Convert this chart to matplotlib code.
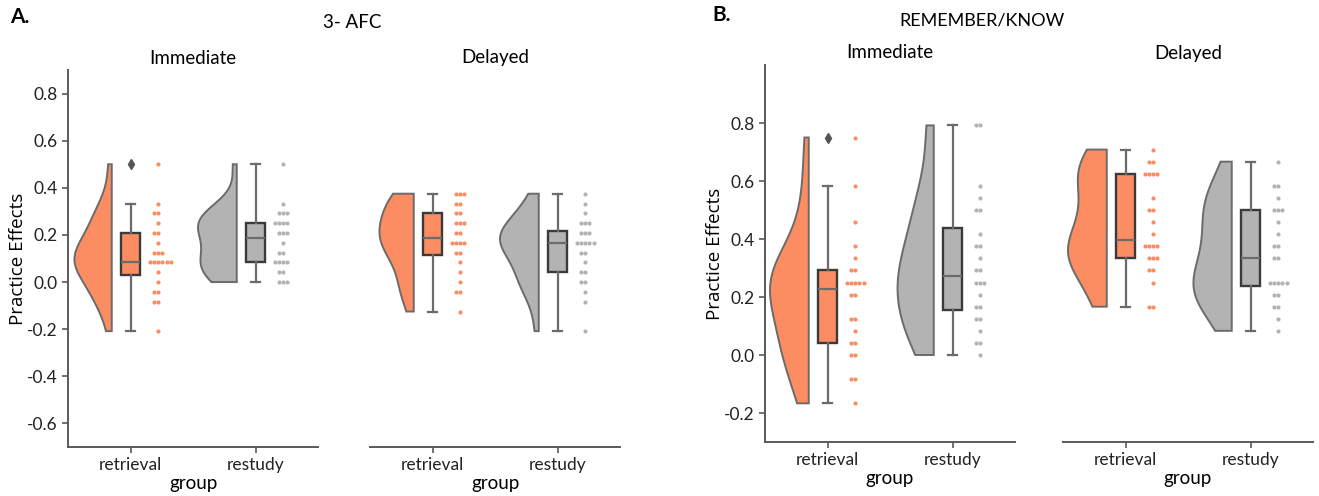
import numpy as np
import matplotlib
matplotlib.use("Agg")
import matplotlib.pyplot as plt

plt.rcParams['font.family'] = ['Lato', 'DejaVu Sans']
plt.rcParams['axes.unicode_minus'] = False

W, H = 1319, 496

groups = ['retrieval', 'restudy']
sessions = ['Immediate', 'Delayed']
colors = ['#fc8d62', '#b3b3b3']

# practice-effect scores in 24ths, one entry per participant
afc_imm_retrieval = [12, 8, 7, 7, 6, 5, 5, 4, 3, 3, 3, 2, 2, 2, 2, 2, 2, 1, 0, -1, -1, -2, -2, -5]
afc_imm_restudy = [12, 8, 7, 7, 7, 6, 6, 6, 6, 5, 5, 5, 4, 3, 3, 2, 2, 2, 2, 1, 1, 0, 0, 0]
afc_del_retrieval = [9, 9, 9, 8, 8, 7, 7, 6, 6, 6, 5, 5, 4, 4, 4, 4, 3, 3, 2, 1, 0, -1, -1, -3]
afc_del_restudy = [9, 8, 7, 6, 6, 6, 5, 5, 5, 4, 4, 4, 4, 4, 3, 3, 2, 1, 1, 0, 0, -1, -2, -5]
rk_imm_retrieval = [18, 14, 11, 9, 8, 7, 7, 6, 6, 6, 6, 6, 5, 5, 3, 3, 2, 1, 1, 0, 0, -2, -2, -4]
rk_imm_restudy = [19, 19, 14, 13, 12, 12, 10, 9, 9, 8, 7, 7, 6, 6, 6, 5, 4, 4, 3, 3, 2, 1, 1, 0]
rk_del_retrieval = [17, 16, 16, 15, 15, 15, 15, 13, 12, 12, 11, 10, 9, 9, 9, 9, 8, 8, 8, 7, 7, 6, 4, 4]
rk_del_restudy = [16, 14, 14, 13, 12, 12, 12, 11, 10, 9, 9, 8, 8, 6, 6, 6, 6, 6, 5, 5, 4, 4, 3, 2]

afc_ticks = [-0.6, -0.4, -0.2, 0.0, 0.2, 0.4, 0.6, 0.8]
rk_ticks = [-0.2, 0.0, 0.2, 0.4, 0.6, 0.8]

SWARM_ORDER = [0, -1, 1, -2, 2, 3, -3, 4, -4]
LINE = '#6b6b6b'


def px_axes(fig, x0, x1, ytop, ybot):
    return fig.add_axes([x0 / W, 1 - ybot / H, (x1 - x0) / W, (ybot - ytop) / H])


def kde(v, grid):
    bw = v.std(ddof=1) * len(v) ** (-0.2)
    z = (grid[:, None] - v[None, :]) / bw
    return np.exp(-0.5 * z ** 2).sum(axis=1) / (len(v) * bw * np.sqrt(2 * np.pi))


def raincloud(ax, datasets):
    vals = [np.asarray(d) / 24.0 for d in datasets]
    grids = [np.linspace(v.min(), v.max(), 200) for v in vals]
    dens = [kde(v, g) for v, g in zip(vals, grids)]
    peak = max(d.max() for d in dens)
    for i, (v, g, d, c) in enumerate(zip(vals, grids, dens, colors)):
        edge = i - 0.15
        xs = np.concatenate([[edge], edge - d / peak * 0.31, [edge]])
        ys = np.concatenate([[g[0]], g, [g[-1]]])
        ax.fill(xs, ys, facecolor=c, edgecolor=LINE, lw=1.4, zorder=1)

        ax.boxplot([v], positions=[i], widths=0.15, patch_artist=True,
                   manage_ticks=False, whis=1.5,
                   boxprops=dict(facecolor=c, edgecolor='#3a3a3a', lw=1.7),
                   whiskerprops=dict(color=LINE, lw=1.6),
                   capprops=dict(color=LINE, lw=1.6),
                   medianprops=dict(color=LINE, lw=1.6),
                   flierprops=dict(marker='d', markerfacecolor='#555555',
                                   markeredgecolor='#555555', markersize=5),
                   zorder=2)

        xs_pts, ys_pts = [], []
        for u in np.unique(datasets[i]):
            k = int(np.sum(np.asarray(datasets[i]) == u))
            for j in range(k):
                xs_pts.append(i + 0.22 + SWARM_ORDER[j] * 0.034)
                ys_pts.append(u / 24.0)
        ax.scatter(xs_pts, ys_pts, s=9, color=c, linewidths=0, zorder=3)

    ax.set_xlim(-0.5, 1.5)
    ax.set_xticks([0, 1])
    ax.set_xticklabels(groups, fontsize=12.5)
    ax.set_xlabel('group', fontsize=13.5, labelpad=1)
    for s in ['top', 'right']:
        ax.spines[s].set_visible(False)
    for s in ['left', 'bottom']:
        ax.spines[s].set_color('#5a5a5a')
        ax.spines[s].set_linewidth(1.4)
    ax.tick_params(colors='#5a5a5a', labelcolor='#222222', length=4, width=1.2,
                   labelsize=12.5)


fig = plt.figure(figsize=(W / 100, H / 100), dpi=100)

panels = [
    dict(x=[(68, 318), (370, 620)], y=(70, 447), lim=(-0.7, 0.9), ticks=afc_ticks,
         data=[(afc_imm_retrieval, afc_imm_restudy), (afc_del_retrieval, afc_del_restudy)],
         title_y=58),
    dict(x=[(765, 1015), (1063, 1313)], y=(65, 442), lim=(-0.3, 1.0), ticks=rk_ticks,
         data=[(rk_imm_retrieval, rk_imm_restudy), (rk_del_retrieval, rk_del_restudy)],
         title_y=53),
]

for p in panels:
    for k, ((x0, x1), d) in enumerate(zip(p['x'], p['data'])):
        ax = px_axes(fig, x0, x1, p['y'][0], p['y'][1])
        raincloud(ax, d)
        ax.set_ylim(*p['lim'])
        if k == 0:
            ax.set_yticks(p['ticks'])
            ax.set_yticklabels(['%.1f' % t for t in p['ticks']])
            ax.set_ylabel('Practice Effects', fontsize=13.5, family=['Open Sans', 'DejaVu Sans'])
            ax.yaxis.set_label_coords(-0.165, 0.5)
        else:
            ax.spines['left'].set_visible(False)
            ax.set_yticks([])
        fig.text((x0 + x1) / 2 / W, 1 - p['title_y'] / H, sessions[k],
                 ha='center', va='center', fontsize=13.5)

fig.text(10 / W, 1 - 17 / H, 'A.', ha='left', va='center', fontsize=15, fontweight='bold')
fig.text(352 / W, 1 - 23 / H, '3- AFC', ha='center', va='center', fontsize=13.5)
fig.text(712 / W, 1 - 15 / H, 'B.', ha='left', va='center', fontsize=15, fontweight='bold')
fig.text(982 / W, 1 - 20 / H, 'REMEMBER/KNOW', ha='center', va='center', fontsize=13)

fig.savefig('out.png', dpi=100)
